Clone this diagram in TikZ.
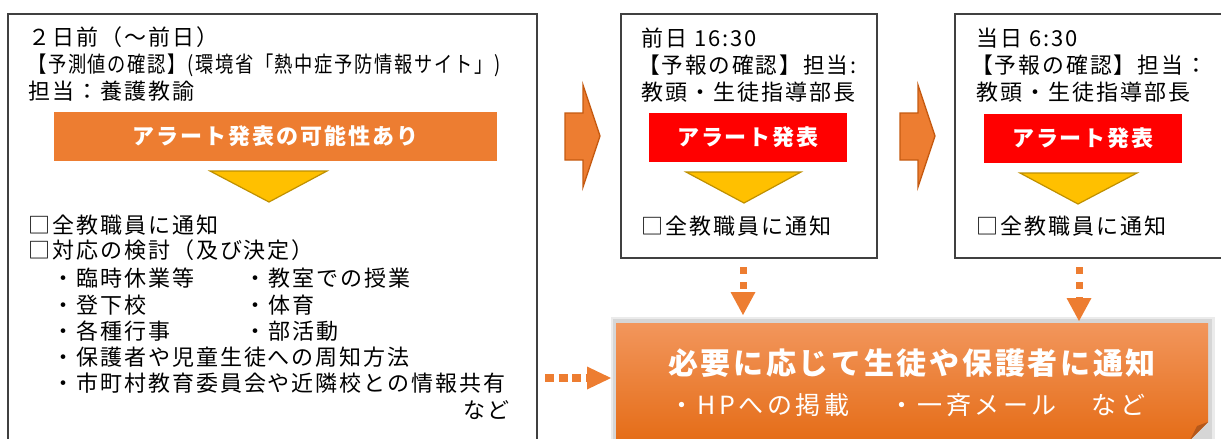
\documentclass[tikz,border=0pt]{standalone}
\usepackage{fontspec}
\setmainfont{Noto Sans CJK JP}[LetterSpace=9]
\usetikzlibrary{arrows.meta}
\definecolor{orng}{HTML}{ED7D31}
\definecolor{chevd}{HTML}{C55A11}
\definecolor{yel}{HTML}{FFC000}
\definecolor{yeld}{HTML}{BF9000}
\definecolor{frameC}{HTML}{404040}
\definecolor{bigtop}{HTML}{F2965C}
\definecolor{bigbot}{HTML}{E56D18}
\definecolor{curl}{HTML}{B4581B}
\begin{document}
\begin{tikzpicture}[x=1pt,y=-1pt,
  t/.style={inner sep=0pt,anchor=west,font=\fontsize{22}{26}\selectfont},
  frame/.style={draw=frameC,line width=1.3pt,inner sep=0pt,fill=white},
  obar/.style={fill=orng,inner sep=0pt,text=white,font=\fontsize{22}{26}\selectfont\bfseries},
  rbar/.style={fill=red,inner sep=0pt,text=white,font=\fontsize{22}{26}\selectfont\bfseries,minimum width=198pt,minimum height=49pt},
  tri/.style={fill=yel,draw=yeld,line width=1.2pt},
  chev/.style={fill=orng,draw=chevd,line width=1.3pt,line join=miter},
  dotarrow/.style={draw=orng,line width=8pt,dash pattern=on 9pt off 4.5pt,
     -{Triangle[length=24pt,width=23pt,line width=0pt,fill=orng]}},
  dotdown/.style={draw=orng,line width=7pt,dash pattern=on 7pt off 8pt,
     -{Triangle[length=23pt,width=25pt,line width=0pt,fill=orng]}},
]
\useasboundingbox (0,0) rectangle (1221,439);
\clip (0,0) rectangle (1221,439);

% ---------- left box ----------
\node[frame,minimum width=529pt,minimum height=450pt] (lbox) at (272.5,239) {};
\node[t] (l1) at (28,37) {２日前（～前日）};
\node[t] (l2) at (28,65) {\resizebox{472pt}{\height}{【予測値の確認】(環境省「熱中症予防情報サイト」)}};
\node[t] (l3) at (28,91) {担当：養護教諭};
\node[obar,minimum width=443pt,minimum height=49pt] (bar1) at (275.5,136.5) {アラート発表の可能性あり};
\draw[tri] (210,171) -- (327,171) -- (269,202) -- cycle;
\node[t] (c1) at (28,225) {□全教職員に通知};
\node[t] (c2) at (28,250) {□対応の検討（及び決定）};
\node[t] (i1) at (52,278) {・臨時休業等};
\node[t] (i2) at (244,278) {・教室での授業};
\node[t] (i3) at (52,305) {・登下校};
\node[t] (i4) at (244,305) {・体育};
\node[t] (i5) at (52,331) {・各種行事};
\node[t] (i6) at (244,331) {・部活動};
\node[t] (i7) at (52,357) {・保護者や児童生徒への周知方法};
\node[t] (i8) at (52,383) {・市町村教育委員会や近隣校との情報共有};
\node[t,anchor=east] (i9) at (510,410) {など};

% ---------- chevrons ----------
\draw[chev] (565,113) -- (583,113) -- (583,85) -- (600,136) -- (583,187) -- (583,160) -- (565,160) -- cycle;
\draw[chev] (900,113) -- (918,113) -- (918,85) -- (935,136) -- (918,187) -- (918,160) -- (900,160) -- cycle;

% ---------- box 1 ----------
\node[frame,minimum width=256pt,minimum height=244pt] (box1) at (749,136) {};
\node[t] (b1a) at (641,38) {前日 16:30};
\node[t] (b1b) at (638,65) {\resizebox{218pt}{\height}{【予報の確認】担当:}};
\node[t] (b1c) at (641,92) {教頭・生徒指導部長};
\node[rbar] (red1) at (748,137.5) {アラート発表};
\draw[tri] (686,172) -- (801,172) -- (744,203) -- cycle;
\node[t] (b1d) at (641,226) {□全教職員に通知};

% ---------- box 2 ----------
\node[frame,minimum width=280pt,minimum height=244pt] (box2) at (1095,136) {};
\node[t] (b2a) at (976,38) {当日 6:30};
\node[t] (b2b) at (971,65) {\resizebox{236pt}{\height}{【予報の確認】担当：}};
\node[t] (b2c) at (976,92) {教頭・生徒指導部長};
\node[rbar] (red2) at (1083,138.5) {アラート発表};
\draw[tri] (1020,173) -- (1137,173) -- (1078,204) -- cycle;
\node[t] (b2d) at (976,226) {□全教職員に通知};

% ---------- big box ----------
\fill[black!8] (611,317) rectangle (1215,446);
\fill[black!16] (613,319) rectangle (1212,446);
\shade[top color=bigtop,bottom color=bigbot]
  (616,323) -- (1208,323) -- (1208,422) -- (1190,440) -- (616,440) -- cycle;
\fill[curl] (1208,422) -- (1190,440) -- (1197,426) -- cycle;
\node[inner sep=0pt,minimum width=592pt,minimum height=117pt] (big) at (912,381.5) {};
\node[inner sep=0pt,text=white,font=\fontsize{30}{34}\selectfont\bfseries] (bt1) at (912,363) {必要に応じて生徒や保護者に通知};
\node[inner sep=0pt,anchor=west,text=white,font=\fontsize{25}{29}\selectfont\addfontfeature{LetterSpace=14}] (bt2) at (669,405) {・HPへの掲載\hspace{40pt}・一斉メール\hspace{35pt}など};

% ---------- dotted connectors ----------
\coordinate (a1s) at (545,378);
\coordinate (a1e) at (611,378);
\draw[dotarrow] (a1s) -- (a1e);
\coordinate (a2s) at (743,267);
\coordinate (a2e) at (743,315);
\draw[dotdown] (a2s) -- (a2e);
\coordinate (a3s) at (1079,267);
\coordinate (a3e) at (1079,321);
\draw[dotdown] (a3s) -- (a3e);
\end{tikzpicture}
\end{document}
